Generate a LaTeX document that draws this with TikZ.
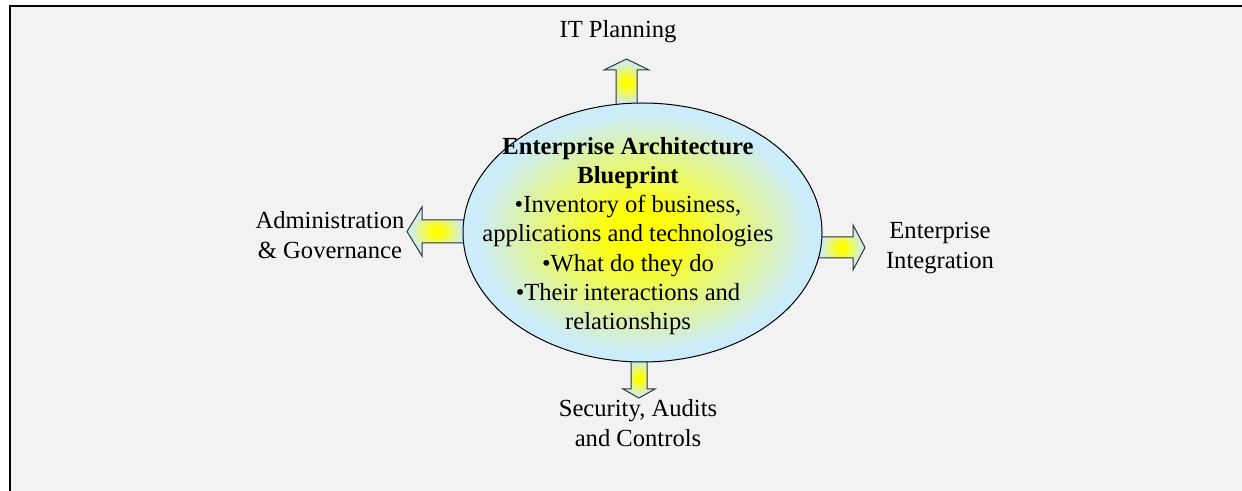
\documentclass[tikz,border=0pt]{standalone}
\usepackage{fontspec}
\setmainfont{Liberation Serif}
\usetikzlibrary{shapes.geometric}
\definecolor{bpblue}{RGB}{204,236,250}
\definecolor{panelgray}{RGB}{242,242,242}
\pgfdeclareradialshading{bpglow}{\pgfpoint{0bp}{0bp}}{color(0bp)=(yellow);
  color(4bp)=(yellow); color(23bp)=(bpblue); color(50bp)=(bpblue)}

\begin{document}
\begin{tikzpicture}[x=0.5pt,y=-0.5pt,
  blockarrow/.style={draw=black!80,line width=0.5pt,shading=bpglow},
  caption/.style={align=center,font=\fontsize{12.3}{14.6}\selectfont}]
\useasboundingbox (0,0) rectangle (1242,491);
\fill[white] (0,0) rectangle (1242,491);
\fill[panelgray] (10,6) rectangle (1242,491);
\draw[line width=1pt] (10,491)--(10,6)--(1242,6);

\coordinate (U0) at (626.5,106);
\coordinate (L0) at (466,231.5);
\coordinate (R0) at (818,247.5);
\coordinate (D0) at (639,358);

\draw[blockarrow] (U0) ++(-10.5,0) -- ++(0,-36) -- ++(-12,0) -- ++(22.5,-11)
  -- ++(22.5,11) -- ++(-12,0) -- ++(0,36) -- cycle;

\draw[blockarrow] (L0) ++(0,-11.5) -- ++(-44,0) -- ++(0,-13) -- ++(-15,24.5)
  -- ++(15,24.5) -- ++(0,-13) -- ++(44,0) -- cycle;

\draw[blockarrow] (R0) ++(0,-10.5) -- ++(35,0) -- ++(0,-12) -- ++(12,22.5)
  -- ++(-12,22.5) -- ++(0,-12) -- ++(-35,0) -- cycle;

\draw[blockarrow] (D0) ++(-8,0) -- ++(0,31) -- ++(-8,0) -- ++(16,9)
  -- ++(16,-9) -- ++(-8,0) -- ++(0,-31) -- cycle;

\node[ellipse,draw,line width=0.5pt,inner sep=0pt,minimum width=179.5pt,
  minimum height=129.5pt,shading=bpglow] (bp) at (642.5,232.5) {};

\node[caption] (bpt) at (628,236) {\textbf{Enterprise Architecture}\\\textbf{Blueprint}\\
  •Inventory of business,\\applications and technologies\\•What do they do\\
  •Their interactions and\\relationships};

\node[caption] (itp) at (618,32) {IT Planning};
\node[caption] (adm) at (330,235) {Administration\\\& Governance};
\node[caption] (ent) at (940,248) {Enterprise\\Integration};
\node[caption] (sec) at (638,423) {Security, Audits\\and Controls};
\end{tikzpicture}
\end{document}
